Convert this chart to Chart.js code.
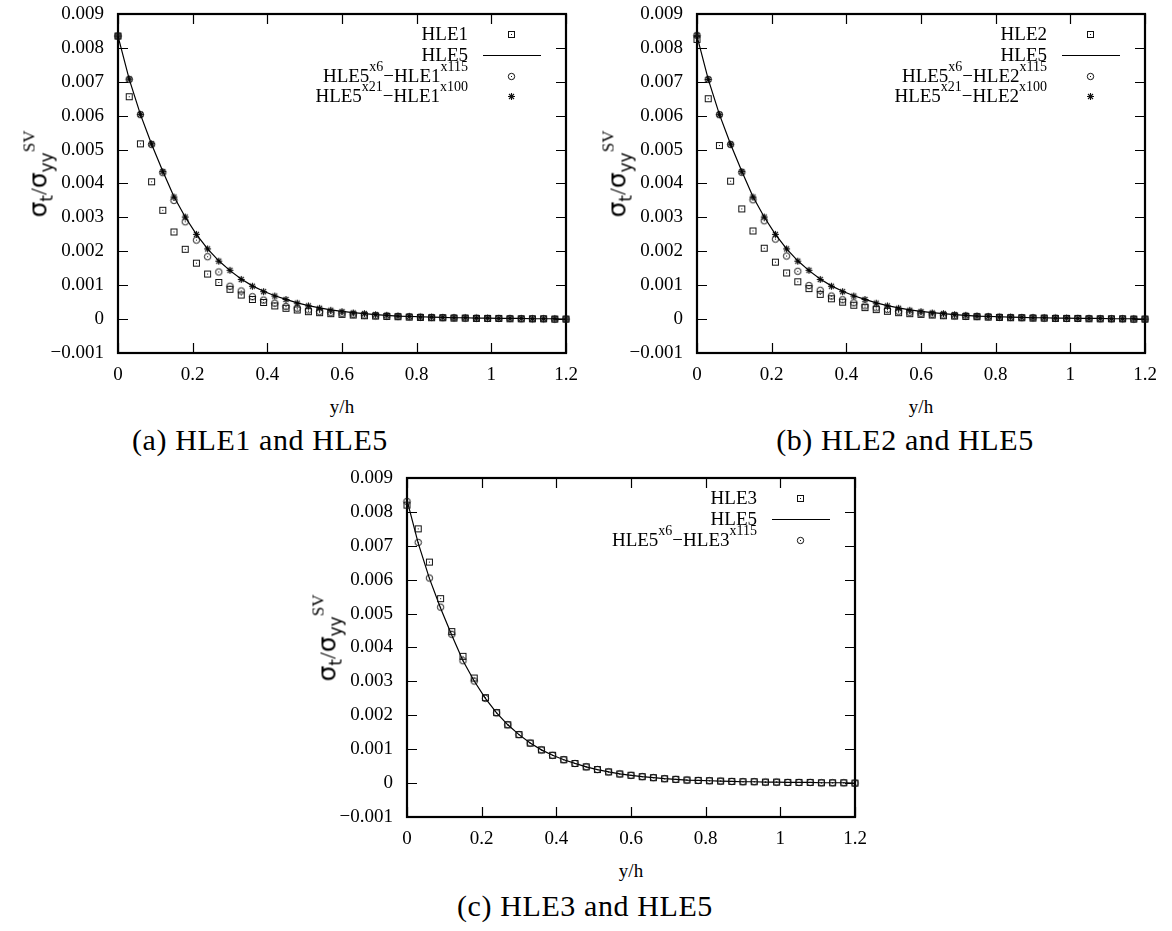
<!DOCTYPE html>
<html>
<head>
<meta charset="utf-8">
<script src="https://cdn.jsdelivr.net/npm/chart.js@4.4.1/dist/chart.umd.min.js"></script>
<style>
  body { margin: 0; background: #fff; width: 1172px; height: 931px; position: relative; overflow: hidden; font-family: "Liberation Serif", serif; color: #000; }
  canvas { position: absolute; }
  .ytitle { position: absolute; font-size: 24px; transform: translate(-50%, -50%) rotate(-90deg); white-space: nowrap; }
  .ytitle .g { font-family: "DejaVu Sans", sans-serif; font-size: 25px; }
  .ytitle sub { font-size: 17px; font-family: "DejaVu Sans", sans-serif; vertical-align: -6px; }
  .ytitle sup { font-size: 17px; vertical-align: 12px; }
  .xtitle { position: absolute; font-size: 19px; transform: translate(-50%, -50%); }
  .cap { position: absolute; font-size: 30px; letter-spacing: 0.6px; transform: translate(-50%, -50%); white-space: nowrap; }
</style>
</head>
<body>
<canvas id="chartA"></canvas>
<canvas id="chartB"></canvas>
<canvas id="chartC"></canvas>
<script>
// y/h positions of the sample points
const yPos = [0, 0.03, 0.06, 0.09, 0.12, 0.15, 0.18, 0.21, 0.24, 0.27, 0.30, 0.33, 0.36, 0.39, 0.42, 0.45, 0.48, 0.51, 0.54, 0.57, 0.60,
              0.63, 0.66, 0.69, 0.72, 0.75, 0.78, 0.81, 0.84, 0.87, 0.90, 0.93, 0.96, 0.99, 1.02, 1.05, 1.08, 1.11, 1.14, 1.17, 1.20];

const hle5 = [0.00835, 0.00708, 0.00604, 0.00516, 0.00436, 0.00361, 0.00301, 0.00250, 0.00207, 0.00172, 0.00143, 0.00118, 0.00098, 0.00082,
              0.00069, 0.00058, 0.00048, 0.00040, 0.00033, 0.00027, 0.00023, 0.00019, 0.00016, 0.00013, 0.00011, 0.00009, 0.00008, 0.00007,
              0.00006, 0.00005, 0.00004, 0.00004, 0.00003, 0.00003, 0.00002, 0.00002, 0.00002, 0.00001, 0.00001, 0.00001, 0.00000];

const hle1 = [0.00835, 0.00656, 0.00517, 0.00405, 0.00321, 0.00257, 0.00206, 0.00165, 0.00133, 0.00108, 0.00088, 0.00071, 0.00058, 0.00049,
              0.00039, 0.00032, 0.00027, 0.00022, 0.00019, 0.00016, 0.00014, 0.00012, 0.00010, 0.00009, 0.00008, 0.00007, 0.00006, 0.00005,
              0.00004, 0.00004, 0.00003, 0.00003, 0.00002, 0.00002, 0.00002, 0.00001, 0.00001, 0.00001, 0.00001, 0.00000, 0.00000];
const hle5x6Hle1 = [0.00835, 0.00707, 0.00603, 0.00515, 0.00432, 0.00350, 0.00287, 0.00233, 0.00184, 0.00139, 0.00097, 0.00083, 0.00066, 0.00056,
              0.00047, 0.00037, 0.00032, 0.00027, 0.00022, 0.00019, 0.00017, 0.00014, 0.00012, 0.00010, 0.00009, 0.00008, 0.00007, 0.00006,
              0.00005, 0.00004, 0.00004, 0.00003, 0.00003, 0.00002, 0.00002, 0.00002, 0.00001, 0.00001, 0.00001, 0.00000, 0.00000];
const hle5x21Hle1 = [0.00835, 0.00708, 0.00604, 0.00517, 0.00435, 0.00360, 0.00301, 0.00250, 0.00207, 0.00171, 0.00144, 0.00117, 0.00097, 0.00081,
              0.00068, 0.00058, 0.00047, 0.00039, 0.00032, 0.00026, 0.00022, 0.00018, 0.00016, 0.00013, 0.00011, 0.00009, 0.00008, 0.00006,
              0.00006, 0.00005, 0.00004, 0.00004, 0.00003, 0.00003, 0.00002, 0.00002, 0.00002, 0.00001, 0.00001, 0.00001, 0.00000];

const hle2 = [0.00825, 0.00650, 0.00512, 0.00407, 0.00325, 0.00260, 0.00209, 0.00168, 0.00136, 0.00110, 0.00090, 0.00073, 0.00060, 0.00050,
              0.00041, 0.00034, 0.00028, 0.00023, 0.00019, 0.00016, 0.00014, 0.00012, 0.00010, 0.00009, 0.00008, 0.00007, 0.00006, 0.00005,
              0.00004, 0.00004, 0.00003, 0.00003, 0.00002, 0.00002, 0.00002, 0.00001, 0.00001, 0.00001, 0.00001, 0.00000, 0.00000];
const hle5x6Hle2 = [0.00837, 0.00707, 0.00603, 0.00515, 0.00433, 0.00352, 0.00290, 0.00236, 0.00186, 0.00141, 0.00099, 0.00085, 0.00068, 0.00057,
              0.00048, 0.00039, 0.00033, 0.00028, 0.00023, 0.00020, 0.00017, 0.00014, 0.00012, 0.00010, 0.00009, 0.00008, 0.00007, 0.00006,
              0.00005, 0.00004, 0.00004, 0.00003, 0.00003, 0.00002, 0.00002, 0.00002, 0.00001, 0.00001, 0.00001, 0.00000, 0.00000];
const hle5x21Hle2 = [0.00837, 0.00707, 0.00603, 0.00516, 0.00435, 0.00360, 0.00301, 0.00250, 0.00207, 0.00171, 0.00144, 0.00117, 0.00097, 0.00081,
              0.00068, 0.00058, 0.00047, 0.00039, 0.00032, 0.00026, 0.00022, 0.00018, 0.00016, 0.00013, 0.00011, 0.00009, 0.00008, 0.00006,
              0.00006, 0.00005, 0.00004, 0.00004, 0.00003, 0.00003, 0.00002, 0.00002, 0.00002, 0.00001, 0.00001, 0.00001, 0.00000];

const hle3 = [0.00820, 0.00750, 0.00652, 0.00544, 0.00447, 0.00374, 0.00310, 0.00252, 0.00208, 0.00172, 0.00143, 0.00118, 0.00098, 0.00082,
              0.00069, 0.00058, 0.00048, 0.00040, 0.00033, 0.00027, 0.00023, 0.00019, 0.00016, 0.00013, 0.00011, 0.00009, 0.00008, 0.00007,
              0.00006, 0.00005, 0.00004, 0.00004, 0.00003, 0.00003, 0.00002, 0.00002, 0.00002, 0.00001, 0.00001, 0.00001, 0.00000];
const hle5x6Hle3 = [0.00831, 0.00710, 0.00605, 0.00519, 0.00439, 0.00361, 0.00301, 0.00250, 0.00207, 0.00172, 0.00143, 0.00118, 0.00098, 0.00082,
              0.00069, 0.00058, 0.00048, 0.00040, 0.00033, 0.00027, 0.00023, 0.00019, 0.00016, 0.00013, 0.00011, 0.00009, 0.00008, 0.00007,
              0.00006, 0.00005, 0.00004, 0.00004, 0.00003, 0.00003, 0.00002, 0.00002, 0.00002, 0.00001, 0.00001, 0.00001, 0.00000];

const xTicks = [0, 0.2, 0.4, 0.6, 0.8, 1, 1.2];
const yMin = -0.001, yMax = 0.009, yStep = 0.001;

const FONT = '"Liberation Serif", serif';
const ink = '#000';
const markInk = '#111';

function marker(kind) {
    const c = document.createElement('canvas');
    c.width = 11; c.height = 11;
    const g = c.getContext('2d');
    g.strokeStyle = markInk; g.fillStyle = markInk; g.lineWidth = 1;
    if (kind === 'square') {
        g.strokeRect(2.5, 2.5, 6, 6);
        g.fillRect(5, 5, 1, 1);
    } else if (kind === 'circle') {
        g.beginPath(); g.arc(5.5, 5.5, 3.2, 0, Math.PI * 2); g.stroke();
        g.fillRect(5, 5, 1, 1);
    } else {
        g.lineWidth = 1.1;
        g.beginPath();
        g.moveTo(5.5, 2); g.lineTo(5.5, 9);
        g.moveTo(2, 5.5); g.lineTo(9, 5.5);
        g.moveTo(3, 3); g.lineTo(8, 8);
        g.moveTo(8, 3); g.lineTo(3, 8);
        g.stroke();
    }
    return c;
}
const marks = { square: marker('square'), circle: marker('circle'), star: marker('star') };

function pts(vals) {
    return yPos.map((x, i) => ({ x: x, y: vals[i] }));
}

function fmtY(v) {
    const r = Math.round(v * 1e6) / 1e6;
    if (Math.abs(r) < 1e-9) return '0';
    return (r < 0 ? '\u2212' : '') + Math.abs(r).toFixed(3);
}

// border and inward tick marks on all four sides
const gnuFrame = {
    id: 'gnuFrame',
    beforeDatasetsDraw(chart) {
        const { ctx, chartArea: a, scales } = chart;
        ctx.save();
        ctx.strokeStyle = ink;
        ctx.lineWidth = 1.2;
        ctx.beginPath();
        xTicks.forEach(v => {
            const px = Math.round(scales.x.getPixelForValue(v)) + 0.5;
            ctx.moveTo(px, a.bottom); ctx.lineTo(px, a.bottom - 10);
            ctx.moveTo(px, a.top); ctx.lineTo(px, a.top + 10);
        });
        for (let k = 0; k <= 10; k++) {
            const py = Math.round(scales.y.getPixelForValue(yMin + k * yStep)) + 0.5;
            ctx.moveTo(a.left, py); ctx.lineTo(a.left + 10, py);
            ctx.moveTo(a.right, py); ctx.lineTo(a.right - 10, py);
        }
        ctx.stroke();
        ctx.lineWidth = 2.2;
        ctx.strokeRect(a.left, a.top, a.right - a.left, a.bottom - a.top);
        ctx.restore();
    }
};

function drawRich(ctx, parts, xr, y) {
    let w = 0;
    parts.forEach(p => {
        ctx.font = (p.sup ? 14 : 19) + 'px ' + FONT;
        p.w = ctx.measureText(p.t).width;
        w += p.w;
    });
    let x = xr - w;
    ctx.textAlign = 'left';
    ctx.textBaseline = 'alphabetic';
    parts.forEach(p => {
        ctx.font = (p.sup ? 14 : 19) + 'px ' + FONT;
        ctx.fillText(p.t, x, p.sup ? y - 5 : y + 6);
        x += p.w;
    });
}

function legendPlugin(rows) {
    return {
        id: 'gnuKey',
        afterDatasetsDraw(chart) {
            const { ctx, chartArea: a } = chart;
            const rowY = [20, 41, 62, 82];
            ctx.save();
            ctx.fillStyle = ink;
            rows.forEach((r, i) => {
                const y = a.top + rowY[i];
                drawRich(ctx, r.parts, a.left + 350, y);
                if (r.kind === 'line') {
                    ctx.strokeStyle = ink; ctx.lineWidth = 1.2;
                    ctx.beginPath(); ctx.moveTo(a.left + 365, y + 0.5); ctx.lineTo(a.left + 423, y + 0.5); ctx.stroke();
                } else {
                    const m = marks[r.kind];
                    ctx.drawImage(m, Math.round(a.left + 393 - 5.5), Math.round(y - 5.5));
                }
            });
            ctx.restore();
        }
    };
}

function pointSet(label, vals, kind) {
    return {
        label: label, data: pts(vals), pointStyle: marks[kind], pointRadius: 4,
        showLine: false, clip: false
    };
}
function lineSet(vals) {
    return {
        label: 'HLE5', data: pts(vals), showLine: true, pointRadius: 0,
        borderColor: ink, borderWidth: 1.2, tension: 0, clip: false
    };
}

function makeChart(id, left, top, datasets, rows) {
    const canvas = document.getElementById(id);
    const W = 118 + 448 + 16, H = 14 + 339 + 40;
    canvas.width = W; canvas.height = H;
    canvas.style.left = (left - 118) + 'px';
    canvas.style.top = (top - 14) + 'px';
    canvas.style.width = W + 'px';
    canvas.style.height = H + 'px';
    new Chart(canvas.getContext('2d'), {
        type: 'scatter',
        data: { datasets: datasets },
        options: {
            responsive: false,
            animation: false,
            devicePixelRatio: 1,
            layout: { padding: { top: 14, right: 16, left: 0, bottom: 0 } },
            plugins: { legend: { display: false }, tooltip: { enabled: false } },
            scales: {
                x: {
                    type: 'linear', min: 0, max: 1.2,
                    afterBuildTicks: s => { s.ticks = xTicks.map(v => ({ value: v })); },
                    afterFit: s => { s.height = 40; s.paddingLeft = 0; s.paddingRight = 0; },
                    grid: { display: false, drawTicks: false },
                    border: { display: false },
                    ticks: { color: ink, padding: 11, maxRotation: 0, autoSkip: false,
                             font: { family: FONT, size: 19 },
                             callback: v => String(Math.round(v * 10) / 10) }
                },
                y: {
                    type: 'linear', min: yMin, max: yMax,
                    ticks: { stepSize: yStep, color: ink, padding: 14, autoSkip: false,
                             font: { family: FONT, size: 19 }, callback: v => fmtY(v) },
                    afterFit: s => { s.width = 118; s.paddingTop = 0; s.paddingBottom = 0; },
                    grid: { display: false, drawTicks: false },
                    border: { display: false }
                }
            }
        },
        plugins: [gnuFrame, legendPlugin(rows)]
    });
}

function rowsFor(n, withStar) {
    const r = [
        { parts: [{ t: 'HLE' + n }], kind: 'square' },
        { parts: [{ t: 'HLE5' }], kind: 'line' },
        { parts: [{ t: 'HLE5' }, { t: 'x6', sup: true }, { t: '\u2212HLE' + n }, { t: 'x115', sup: true }], kind: 'circle' }
    ];
    if (withStar) r.push({ parts: [{ t: 'HLE5' }, { t: 'x21', sup: true }, { t: '\u2212HLE' + n }, { t: 'x100', sup: true }], kind: 'star' });
    return r;
}

makeChart('chartA', 118, 14, [
    pointSet('HLE1', hle1, 'square'),
    lineSet(hle5),
    pointSet('HLE5x6-HLE1x115', hle5x6Hle1, 'circle'),
    pointSet('HLE5x21-HLE1x100', hle5x21Hle1, 'star')
], rowsFor(1, true));

makeChart('chartB', 697, 14, [
    pointSet('HLE2', hle2, 'square'),
    lineSet(hle5),
    pointSet('HLE5x6-HLE2x115', hle5x6Hle2, 'circle'),
    pointSet('HLE5x21-HLE2x100', hle5x21Hle2, 'star')
], rowsFor(2, true));

makeChart('chartC', 407, 478, [
    pointSet('HLE3', hle3, 'square'),
    lineSet(hle5),
    pointSet('HLE5x6-HLE3x115', hle5x6Hle3, 'circle')
], rowsFor(3, false));

// axis titles and captions
const panels = [
    { left: 118, top: 14, cap: '(a) HLE1 and HLE5', capX: 260, capY: 440 },
    { left: 697, top: 14, cap: '(b) HLE2 and HLE5', capX: 905, capY: 440 },
    { left: 407, top: 478, cap: '(c) HLE3 and HLE5', capX: 585, capY: 906 }
];
panels.forEach(p => {
    const yt = document.createElement('div');
    yt.className = 'ytitle';
    yt.innerHTML = '<span class="g">\u03c3</span><sub>t</sub>/<span class="g">\u03c3</span><sub>yy</sub><sup>SV</sup>';
    yt.style.left = (p.left - 80) + 'px';
    yt.style.top = (p.top + 160) + 'px';
    document.body.appendChild(yt);

    const xt = document.createElement('div');
    xt.className = 'xtitle';
    xt.textContent = 'y/h';
    xt.style.left = (p.left + 224) + 'px';
    xt.style.top = (p.top + 393) + 'px';
    document.body.appendChild(xt);

    const c = document.createElement('div');
    c.className = 'cap';
    c.textContent = p.cap;
    c.style.left = p.capX + 'px';
    c.style.top = p.capY + 'px';
    document.body.appendChild(c);
});
</script>
</body>
</html>
